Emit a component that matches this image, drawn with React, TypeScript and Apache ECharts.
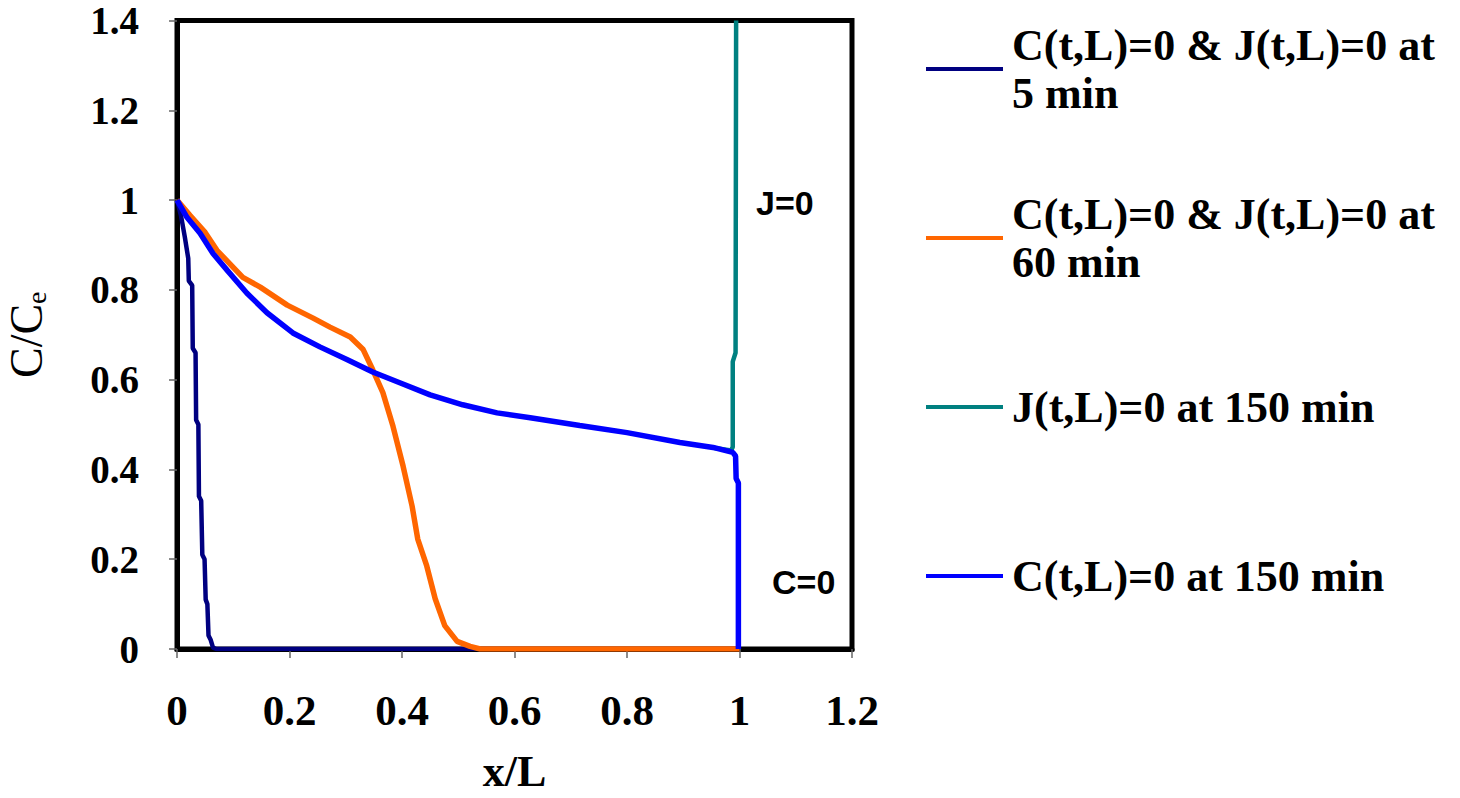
import React, { useEffect, useRef } from "react";
import * as echarts from "echarts";

// ---- data ----
const name5 = "C(t,L)=0 & J(t,L)=0 at 5 min";
const name60 = "C(t,L)=0 & J(t,L)=0 at 60 min";
const nameJ150 = "J(t,L)=0 at 150 min";
const nameC150 = "C(t,L)=0 at 150 min";

const x5min = [0, 0.007, 0.014, 0.02, 0.021, 0.027, 0.028, 0.033, 0.034, 0.038, 0.039, 0.043, 0.045, 0.049, 0.051, 0.054, 0.056, 0.06, 0.064, 0.07, 1.0];
const c5min = [1.0, 0.966, 0.917, 0.87, 0.82, 0.81, 0.67, 0.66, 0.51, 0.5, 0.34, 0.33, 0.21, 0.2, 0.11, 0.1, 0.03, 0.02, 0.003, 0, 0];

const x60min = [0, 0.023, 0.05, 0.071, 0.117, 0.148, 0.196, 0.242, 0.272, 0.308, 0.331, 0.348, 0.366, 0.384, 0.402, 0.418, 0.428, 0.444, 0.459, 0.476, 0.498, 0.521, 0.539, 1.0];
const c60min = [1.0, 0.966, 0.928, 0.888, 0.828, 0.806, 0.766, 0.737, 0.717, 0.695, 0.667, 0.622, 0.571, 0.496, 0.407, 0.318, 0.245, 0.185, 0.112, 0.052, 0.017, 0.006, 0, 0];

const xJ150 = [0.95, 0.985, 0.988, 0.988, 0.993, 0.994];
const cJ150 = [0.449, 0.442, 0.45, 0.64, 0.66, 1.4];

const xC150 = [0, 0.018, 0.041, 0.064, 0.089, 0.124, 0.16, 0.206, 0.254, 0.302, 0.348, 0.396, 0.45, 0.508, 0.569, 0.628, 0.716, 0.8, 0.894, 0.953, 0.988, 0.993, 0.994, 0.998, 0.998];
const cC150 = [1.0, 0.961, 0.926, 0.881, 0.844, 0.793, 0.749, 0.704, 0.673, 0.645, 0.617, 0.593, 0.566, 0.544, 0.526, 0.515, 0.498, 0.482, 0.46, 0.449, 0.438, 0.43, 0.38, 0.37, 0];

const legendLabels: Record<string, string> = {
  [name5]: "C(t,L)=0 & J(t,L)=0 at\n5 min",
  [name60]: "C(t,L)=0 & J(t,L)=0 at\n60 min",
  [nameJ150]: "J(t,L)=0 at 150 min",
  [nameC150]: "C(t,L)=0 at 150 min",
};

const zip = (xs: number[], ys: number[]) => xs.map((x, i) => [x, ys[i]]);

const SERIF = "'Liberation Serif', 'Times New Roman', serif";
const SANS = "'Liberation Sans', Arial, sans-serif";

export default function App() {
  const ref = useRef<HTMLDivElement>(null);
  useEffect(() => {
    if (!ref.current) return;
    const chart = echarts.init(ref.current, null, { renderer: "svg" });
    const lineSeries = (name: string, data: number[][], color: string, width: number) => ({
      name,
      type: "line",
      data,
      showSymbol: false,
      symbol: "none",
      clip: true,
      lineStyle: { color, width },
      itemStyle: { color },
    });
    chart.setOption({
      animation: false,
      backgroundColor: "#fff",
      grid: {
        left: 177,
        right: 608,
        top: 19,
        bottom: 147,
        show: true,
        borderColor: "#000",
        borderWidth: 5,
        backgroundColor: "transparent",
      },
      xAxis: {
        type: "value",
        min: 0,
        max: 1.2,
        interval: 0.2,
        name: "x/L",
        nameLocation: "middle",
        nameGap: 100,
        nameTextStyle: { fontFamily: SERIF, fontWeight: "bold", fontSize: 44, color: "#000" },
        axisLine: { show: true, onZero: false, lineStyle: { color: "#000", width: 5 } },
        axisTick: { show: true, inside: false, length: 9, lineStyle: { color: "#666", width: 1.5 } },
        axisLabel: { margin: 40, fontFamily: SERIF, fontWeight: "bold", fontSize: 43, color: "#000" },
        splitLine: { show: false },
      },
      yAxis: {
        type: "value",
        min: 0,
        max: 1.4,
        interval: 0.2,
        name: "{a|C/C}{b|e}",
        nameLocation: "middle",
        nameGap: 127,
        nameTextStyle: {
          color: "#000",
          rich: {
            a: { fontFamily: SERIF, fontSize: 46, lineHeight: 48, color: "#000" },
            b: { fontFamily: SERIF, fontSize: 28, lineHeight: 28, verticalAlign: "bottom", color: "#000" },
          },
        },
        axisLine: { show: true, onZero: false, lineStyle: { color: "#000", width: 5 } },
        axisTick: { show: true, inside: false, length: 8, lineStyle: { color: "#666", width: 1.5 } },
        axisLabel: {
          margin: 38,
          fontFamily: SERIF,
          fontWeight: "bold",
          fontSize: 39,
          lineHeight: 30,
          padding: [11, 0, 0, 0],
          color: "#000",
        },
        splitLine: { show: false },
      },
      legend: {
        orient: "vertical",
        left: 926,
        top: -3,
        padding: 0,
        itemGap: 25,
        icon: "rect",
        itemWidth: 77,
        itemHeight: 4,
        selectedMode: false,
        formatter: (n: string) => legendLabels[n] ?? n,
        textStyle: { fontFamily: SERIF, fontWeight: "bold", fontSize: 44, lineHeight: 48, color: "#000" },
        data: [
          { name: name5, textStyle: { padding: [48, 0, 0, 4] } },
          { name: name60, textStyle: { padding: [48, 0, 0, 4] } },
          { name: nameJ150, textStyle: { padding: [48, 0, 48, 4] } },
          { name: nameC150, textStyle: { padding: [48, 0, 48, 4] } },
        ],
      },
      graphic: [
        {
          type: "text",
          left: 756,
          top: 186,
          style: { text: "J=0", font: `bold 34px ${SANS}`, fill: "#000" },
        },
        {
          type: "text",
          left: 772,
          top: 565,
          style: { text: "C=0", font: `bold 34px ${SANS}`, fill: "#000" },
        },
      ],
      series: [
        lineSeries(name5, zip(x5min, c5min), "#000080", 4.5),
        lineSeries(name60, zip(x60min, c60min), "#FF6600", 5.5),
        lineSeries(nameJ150, zip(xJ150, cJ150), "#008080", 4.5),
        lineSeries(nameC150, zip(xC150, cC150), "#0000FF", 5.5),
      ],
    });
    return () => chart.dispose();
  }, []);
  return (
    <div
      ref={ref}
      style={{ position: "fixed", left: 0, top: 0, width: 1460, height: 798, background: "#fff" }}
    />
  );
}
